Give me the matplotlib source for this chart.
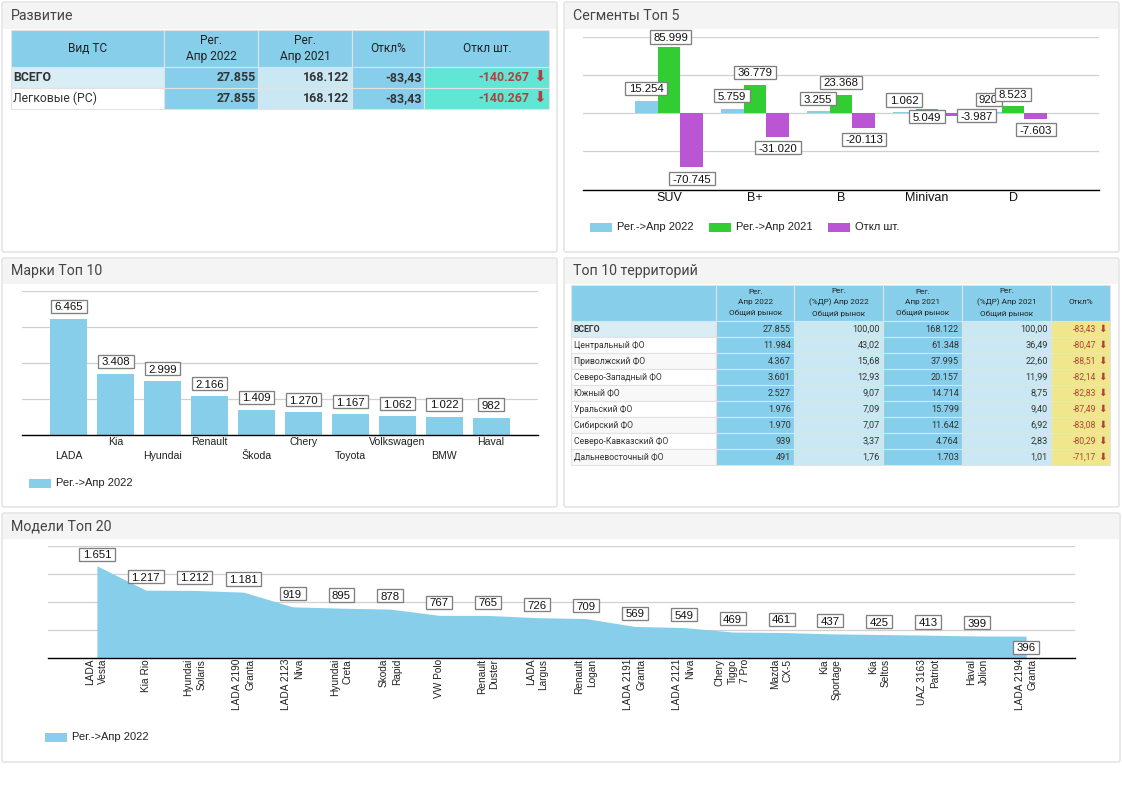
import matplotlib
matplotlib.use("Agg")
import matplotlib.pyplot as plt
from matplotlib.patches import Rectangle, FancyBboxPatch
from matplotlib.path import Path

W, H = 1122, 793
ROBOTO = ["Roboto", "DejaVu Sans"]
ARIAL = ["Liberation Sans", "DejaVu Sans"]
SKY = "#87CEEB"
LIGHT = "#CAE8F3"
TOTAL = "#D9EDF5"
TURQ = "#61E6D5"
KHAKI = "#F0E68C"
GREEN = "#32CD32"
ORCHID = "#BA55D3"
RED = "#B0413E"
TXT = "#333333"
GRID = "#D0D0D0"


def wide_box(x0, y0, w, h, mutation_size):
    px = 0.3 * mutation_size
    a, b, c, d = x0 - px, y0 - 0.03 * mutation_size, x0 + w + px, y0 + h + 0.24 * mutation_size
    return Path([(a, b), (c, b), (c, d), (a, d), (a, b)],
                [Path.MOVETO, Path.LINETO, Path.LINETO, Path.LINETO, Path.CLOSEPOLY])


BOX = dict(boxstyle=wide_box, fc="white", ec="#808080", lw=0.95)

# ---------- data ----------
dev_cols = ["Вид ТС", "Рег.\nАпр 2022", "Рег.\nАпр 2021", "Откл%", "Откл шт."]
dev_names = ["ВСЕГО", "Легковые (PC)"]
dev_2022 = ["27.855", "27.855"]
dev_2021 = ["168.122", "168.122"]
dev_pct = ["-83,43", "-83,43"]
dev_diff = ["-140.267", "-140.267"]

seg_names = ["SUV", "B+", "B", "Minivan", "D"]
seg_2022 = [15254, 5759, 3255, 1062, 920]
seg_2021 = [85999, 36779, 23368, 5049, 8523]
seg_diff = [-70745, -31020, -20113, -3987, -7603]

brand_names = ["LADA", "Kia", "Hyundai", "Renault", "Škoda", "Chery", "Toyota",
               "Volkswagen", "BMW", "Haval"]
brand_vals = [6465, 3408, 2999, 2166, 1409, 1270, 1167, 1062, 1022, 982]

terr_cols = ["", "Рег.\nАпр 2022\nОбщий рынок", "Рег.\n(%ДР) Апр 2022\nОбщий рынок",
             "Рег.\nАпр 2021\nОбщий рынок", "Рег.\n(%ДР) Апр 2021\nОбщий рынок", "Откл%"]
terr_names = ["ВСЕГО", "Центральный ФО", "Приволжский ФО", "Северо-Западный ФО", "Южный ФО",
              "Уральский ФО", "Сибирский ФО", "Северо-Кавказский ФО", "Дальневосточный ФО"]
terr_2022 = ["27.855", "11.984", "4.367", "3.601", "2.527", "1.976", "1.970", "939", "491"]
terr_s22 = ["100,00", "43,02", "15,68", "12,93", "9,07", "7,09", "7,07", "3,37", "1,76"]
terr_2021 = ["168.122", "61.348", "37.995", "20.157", "14.714", "15.799", "11.642", "4.764", "1.703"]
terr_s21 = ["100,00", "36,49", "22,60", "11,99", "8,75", "9,40", "6,92", "2,83", "1,01"]
terr_pct = ["-83,43", "-80,47", "-88,51", "-82,14", "-82,83", "-87,49", "-83,08", "-80,29", "-71,17"]

model_names = ["LADA\nVesta", "Kia Rio", "Hyundai\nSolaris", "LADA 2190\nGranta", "LADA 2123\nNiva",
               "Hyundai\nCreta", "Skoda\nRapid", "VW Polo", "Renault\nDuster", "LADA\nLargus",
               "Renault\nLogan", "LADA 2191\nGranta", "LADA 2121\nNiva", "Chery\nTiggo\n7 Pro",
               "Mazda\nCX-5", "Kia\nSportage", "Kia\nSeltos", "UAZ 3163\nPatriot", "Haval\nJolion",
               "LADA 2194\nGranta"]
model_vals = [1651, 1217, 1212, 1181, 919, 895, 878, 767, 765, 726,
              709, 569, 549, 469, 461, 437, 425, 413, 399, 396]

# ---------- layout helpers ----------
fig = plt.figure(figsize=(W / 100, H / 100), dpi=100, facecolor="white")
bg = fig.add_axes([0, 0, 1, 1], zorder=0)
bg.set_xlim(0, W)
bg.set_ylim(H, 0)
bg.axis("off")


def chart_axes(x0, y0, x1, y1):
    ax = fig.add_axes([x0 / W, 1 - y1 / H, (x1 - x0) / W, (y1 - y0) / H], zorder=1)
    ax.set_facecolor("none")
    for s in ("top", "left", "right"):
        ax.spines[s].set_visible(False)
    ax.spines["bottom"].set_linewidth(1.0)
    ax.spines["bottom"].set_color("black")
    ax.tick_params(axis="both", length=0)
    ax.tick_params(axis="y", labelleft=False)
    ax.grid(axis="y", color=GRID, lw=0.9)
    ax.set_axisbelow(True)
    return ax


def panel(x0, y0, x1, y1, head, title):
    bg.add_patch(FancyBboxPatch((x0, y0), x1 - x0, y1 - y0, boxstyle="round,pad=0,rounding_size=2",
                                fc="white", ec="#E0E0E0", lw=1.0, mutation_aspect=1))
    bg.add_patch(Rectangle((x0 + 1, y0 + 1), x1 - x0 - 2, head - y0 - 1, fc="#F4F4F4", ec="none"))
    bg.text(x0 + 9, (y0 + head) / 2 + 0.5, title, family=ROBOTO, size=10.2, color="#444444",
            ha="left", va="center")


def legend(items, y):
    for x, color, label_text in items:
        bg.add_patch(Rectangle((x, y - 4.5), 22, 9, fc=color, ec="none"))
        bg.text(x + 27, y, label_text, family=ARIAL, size=8.0, color="#222222", ha="left", va="center")


def label(ax, x, y, text, dx, dy, size=8.2):
    ax.annotate(text, (x, y), xytext=(dx * 0.72, (dy - 1) * 0.72), textcoords="offset points",
                ha="center", va="center", family=ARIAL, size=size, color="#111111", bbox=BOX,
                annotation_clip=False, zorder=5)


def dotted(v):
    return f"{v:,}".replace(",", ".")


panel(2, 2, 557, 252, 29, "Развитие")
panel(564, 2, 1119, 252, 29, "Сегменты Топ 5")
panel(2, 258, 557, 507, 284, "Марки Топ 10")
panel(564, 258, 1119, 507, 284, "Топ 10 территорий")
panel(2, 513, 1120, 762, 539, "Модели Топ 20")


def cell(x0, x1, y0, y1, color):
    bg.add_patch(Rectangle((x0, y0), x1 - x0, y1 - y0, fc=color, ec="#E2E2E2", lw=0.8))


# ---------- table 1 ----------
xs = [11, 164.5, 258.5, 352.5, 424.5, 549.5]
ys = [29.5, 66.5, 87.5, 108.5]
for j, t in enumerate(dev_cols):
    cell(xs[j], xs[j + 1], ys[0], ys[1], SKY)
    bg.text((xs[j] + xs[j + 1]) / 2, (ys[0] + ys[1]) / 2 + 0.5, t, family=ROBOTO, size=8.6, color="#222222",
            ha="center", va="center", linespacing=1.35)
for i, name in enumerate(dev_names):
    y0, y1 = ys[i + 1], ys[i + 2]
    yb = (y0 + y1) / 2 + 4.4
    fills = [TOTAL if i == 0 else "white", SKY, LIGHT, SKY, TURQ]
    for j, c in enumerate(fills):
        cell(xs[j], xs[j + 1], y0, y1, c)
    bg.text(xs[0] + 2.5, yb, name, family=ROBOTO, size=8.8, color=TXT, weight="bold" if i == 0 else "normal",
            ha="left", va="baseline")
    for j, v in enumerate((dev_2022[i], dev_2021[i], dev_pct[i])):
        bg.text(xs[j + 2] - 3, yb, v, family=ROBOTO, size=8.9, weight="bold", color=TXT, ha="right", va="baseline")
    bg.text(529.5, yb, dev_diff[i], family=ROBOTO, size=8.9, weight="bold", color=RED, ha="right", va="baseline")
    bg.text(539.5, (y0 + y1) / 2 + 0.5, "⬇", family="DejaVu Sans", size=11, color=RED, ha="center", va="center")

# ---------- table 2 ----------
xs = [571.5, 716.5, 794.5, 883.5, 962.5, 1051.5, 1110.5]
ys = [284.5, 320.5] + [336.5 + 16 * k for k in range(9)]
for j, t in enumerate(terr_cols):
    cell(xs[j], xs[j + 1], ys[0], ys[1], SKY)
    bg.text((xs[j] + xs[j + 1]) / 2, (ys[0] + ys[1]) / 2 - 0.2, t, family=ROBOTO, size=5.9, color="#222222",
            ha="center", va="center", linespacing=1.75)
for i, name in enumerate(terr_names):
    y0, y1 = ys[i + 1], ys[i + 2]
    yb = (y0 + y1) / 2 + 3.2
    first = TOTAL if i == 0 else ("white" if i % 2 == 1 else "#F8F8F8")
    for j, c in enumerate([first, SKY, LIGHT, SKY, LIGHT, KHAKI]):
        cell(xs[j], xs[j + 1], y0, y1, c)
    bg.text(xs[0] + 2.5, yb, name, family=ROBOTO, size=6.2, color=TXT, weight="bold" if i == 0 else "normal",
            ha="left", va="baseline")
    for j, v in enumerate((terr_2022[i], terr_s22[i], terr_2021[i], terr_s21[i])):
        bg.text(xs[j + 2] - 3.5, yb, v, family=ROBOTO, size=6.6, color=TXT, ha="right", va="baseline")
    bg.text(1096, yb, terr_pct[i], family=ROBOTO, size=6.2, color=RED, ha="right", va="baseline")
    bg.text(1102.5, (y0 + y1) / 2 + 0.3, "⬇", family="DejaVu Sans", size=7.5, color=RED, ha="center", va="center")

# ---------- segments ----------
ax = chart_axes(583, 36.5, 1099, 189.5)
ax.set_xlim(0, 6)
ax.set_ylim(-100000, 100000)
ax.set_yticks([-100000, -50000, 0, 50000, 100000])
pos = list(range(1, len(seg_names) + 1))
bw = 0.267
ax.bar([p - bw for p in pos], seg_2022, bw, color=SKY, zorder=2)
ax.bar(pos, seg_2021, bw, color=GREEN, zorder=2)
ax.bar([p + bw for p in pos], seg_diff, bw, color=ORCHID, zorder=2)
ax.set_xticks(pos, seg_names, family=ARIAL, size=9, color="#111111")
ax.tick_params(axis="x", pad=2)
off_2022 = [(0, 13), (0, 13), (0, 12), (0, 12), (-1.5, 13)]
off_2021 = [(1.5, 10), (0, 12.5), (0, 12.7), (0, -8), (0, 12)]
off_diff = [(0, -12), (0, -11), (0, -11), (26.5, 0), (0, -11)]
for k, p in enumerate(pos):
    label(ax, p - bw, seg_2022[k], dotted(seg_2022[k]), *off_2022[k])
for k, p in enumerate(pos):
    label(ax, p, seg_2021[k], dotted(seg_2021[k]), *off_2021[k])
for k, p in enumerate(pos):
    label(ax, p + bw, seg_diff[k], dotted(seg_diff[k]), *off_diff[k])
legend([(590, SKY, "Рег.->Апр 2022"), (709, GREEN, "Рег.->Апр 2021"), (828, ORCHID, "Откл шт.")], 227.5)

# ---------- brands ----------
ax = chart_axes(22, 291.3, 538, 435.3)
ax.set_xlim(0, 11)
ax.set_ylim(0, 8000)
ax.set_yticks([0, 2000, 4000, 6000, 8000])
pos = list(range(1, len(brand_names) + 1))
ax.bar(pos, brand_vals, 0.79, color=SKY, zorder=2)
ax.set_xticks(pos, [n if k % 2 else "\n" + n for k, n in enumerate(brand_names)],
              family=ARIAL, size=7.6, color="#222222", linespacing=1.45)
ax.tick_params(axis="x", pad=1.5)
for p, v in zip(pos, brand_vals):
    label(ax, p, v, dotted(v), 0, 12.5)
legend([(29, SKY, "Рег.->Апр 2022")], 483)

# ---------- models ----------
ax = chart_axes(48, 546.3, 1075, 658.3)
ax.set_xlim(0, 21)
ax.set_ylim(0, 2000)
ax.set_yticks([0, 500, 1000, 1500, 2000])
pos = list(range(1, len(model_names) + 1))
ax.fill_between(pos, model_vals, 0, color=SKY, lw=0, zorder=2)
ax.set_xticks(pos, model_names, family=ARIAL, size=7.3, color="#222222", rotation=90,
              ha="center", va="top", multialignment="right", linespacing=1.35)
ax.tick_params(axis="x", pad=0.5)
for k, (p, v) in enumerate(zip(pos, model_vals)):
    dy = 11.5 if k == 0 else (-11.3 if k == len(model_vals) - 1 else 13)
    label(ax, p, v, dotted(v), 0, dy)
legend([(45, SKY, "Рег.->Апр 2022")], 737.5)

fig.savefig("out.png", dpi=100)
